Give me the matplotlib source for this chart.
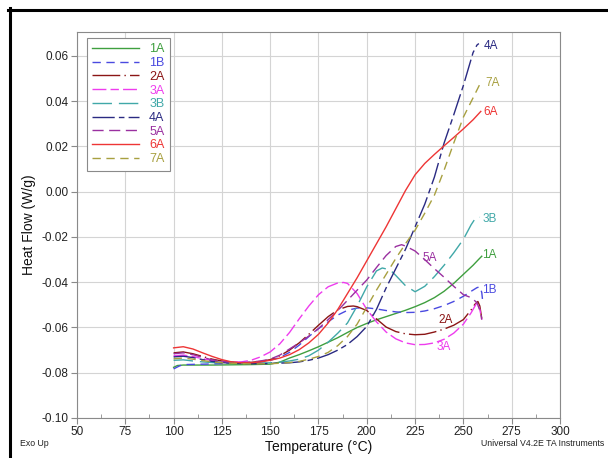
import matplotlib
matplotlib.use("Agg")
import matplotlib.pyplot as plt
from matplotlib.lines import Line2D

plt.rcParams['font.family'] = ['Liberation Sans', 'DejaVu Sans']

# ---- data (Temperature °C, Heat Flow W/g) ----
t_1A = [100, 102, 105, 110, 120, 130, 140, 150, 155, 160, 165, 170, 175, 180, 185, 190, 195, 200, 205, 210,
        215, 220, 225, 230, 235, 240, 245, 250, 255, 258, 259.5]
v_1A = [-0.0776, -0.0768, -0.0766, -0.0766, -0.0766, -0.0765, -0.0764, -0.0762, -0.0753, -0.0735, -0.0720,
        -0.0703, -0.0685, -0.0665, -0.0645, -0.0622, -0.0600, -0.0582, -0.0566, -0.0552, -0.0538, -0.0524,
        -0.0508, -0.0490, -0.0468, -0.0440, -0.0405, -0.0365, -0.0325, -0.0298, -0.0285]

t_1B = [100, 103, 105, 110, 120, 130, 140, 145, 150, 155, 160, 165, 170, 175, 180, 185, 190, 195, 200, 205,
        210, 215, 220, 225, 230, 235, 240, 245, 250, 254, 257, 258.5, 259.5, 260]
v_1B = [-0.0783, -0.0770, -0.0764, -0.0763, -0.0761, -0.0758, -0.0756, -0.0752, -0.0745, -0.0732, -0.0710,
        -0.0678, -0.0640, -0.0605, -0.0575, -0.0545, -0.0524, -0.0514, -0.0513, -0.0518, -0.0525, -0.0531,
        -0.0534, -0.0533, -0.0527, -0.0517, -0.0503, -0.0485, -0.0462, -0.0440, -0.0424, -0.0420, -0.0445,
        -0.0485]

t_2A = [100, 105, 110, 115, 120, 125, 130, 135, 140, 145, 150, 155, 160, 165, 170, 175, 180, 185, 190, 193,
        195, 200, 205, 210, 215, 220, 225, 230, 235, 240, 245, 250, 254, 256, 257.5, 258.5, 259.5]
v_2A = [-0.0712, -0.0708, -0.0716, -0.0728, -0.0740, -0.0748, -0.0753, -0.0755, -0.0754, -0.0750, -0.0742,
        -0.0725, -0.0700, -0.0668, -0.0630, -0.0590, -0.0552, -0.0522, -0.0507, -0.0505, -0.0508, -0.0525,
        -0.0562, -0.0598, -0.0618, -0.0628, -0.0632, -0.0630, -0.0620, -0.0607, -0.0590, -0.0565, -0.0522,
        -0.0497, -0.0485, -0.0505, -0.0560]

t_3A = [100, 105, 110, 115, 120, 125, 130, 135, 140, 145, 150, 155, 160, 165, 170, 175, 180, 185, 188, 190,
        195, 200, 205, 210, 215, 220, 225, 230, 235, 240, 245, 250, 254, 256, 257, 258.5, 259.5]
v_3A = [-0.0725, -0.0722, -0.0728, -0.0738, -0.0746, -0.0752, -0.0754, -0.0752, -0.0745, -0.0730, -0.0708,
        -0.0672, -0.0622, -0.0562, -0.0505, -0.0455, -0.0420, -0.0403, -0.0401, -0.0405, -0.0450, -0.0520,
        -0.0575, -0.0620, -0.0650, -0.0668, -0.0676, -0.0675, -0.0668, -0.0652, -0.0625, -0.0585, -0.0535,
        -0.0505, -0.0490, -0.0520, -0.0565]

t_3B = [100, 105, 110, 115, 120, 130, 140, 150, 155, 160, 165, 170, 175, 180, 185, 190, 195, 200, 205, 208,
        212, 215, 220, 225, 230, 235, 240, 245, 250, 254, 256, 257.6, 258.5]
v_3B = [-0.0745, -0.0743, -0.0748, -0.0752, -0.0755, -0.0758, -0.0759, -0.0756, -0.0753, -0.0748, -0.0740,
        -0.0725, -0.0700, -0.0665, -0.0625, -0.0580, -0.0505, -0.0420, -0.0350, -0.0337, -0.0345, -0.0370,
        -0.0415, -0.0442, -0.0418, -0.0375, -0.0325, -0.0270, -0.0210, -0.0146, -0.0120, -0.0110, -0.0113]

t_4A = [100, 105, 110, 115, 120, 125, 130, 140, 150, 160, 165, 170, 175, 180, 185, 190, 195, 200, 205, 210,
        215, 220, 225, 230, 235, 240, 245, 250, 255, 257, 258]
v_4A = [-0.0730, -0.0727, -0.0733, -0.0742, -0.0750, -0.0755, -0.0758, -0.0760, -0.0759, -0.0756, -0.0752,
        -0.0745, -0.0735, -0.0720, -0.0700, -0.0675, -0.0640, -0.0595, -0.0520, -0.0425, -0.0340, -0.0255,
        -0.0155, -0.0055, 0.0065, 0.0215, 0.0340, 0.0470, 0.0615, 0.0648, 0.0655]

t_5A = [100, 105, 110, 115, 120, 125, 130, 135, 140, 145, 150, 155, 160, 165, 170, 175, 180, 185, 190, 195,
        200, 205, 210, 215, 218, 220, 225, 230, 235, 240, 245, 250, 254, 257, 259, 259.5]
v_5A = [-0.0716, -0.0712, -0.0720, -0.0732, -0.0743, -0.0750, -0.0754, -0.0755, -0.0753, -0.0748, -0.0740,
        -0.0722, -0.0695, -0.0668, -0.0638, -0.0605, -0.0565, -0.0525, -0.0480, -0.0435, -0.0390, -0.0335,
        -0.0282, -0.0242, -0.0234, -0.0240, -0.0262, -0.0300, -0.0340, -0.0378, -0.0418, -0.0455, -0.0468,
        -0.0490, -0.0535, -0.0565]

t_6A = [100, 105, 110, 115, 120, 125, 130, 135, 140, 145, 150, 155, 160, 165, 170, 175, 180, 185, 190, 195,
        200, 205, 210, 215, 220, 225, 230, 235, 240, 245, 250, 255, 259]
v_6A = [-0.0690, -0.0685, -0.0695, -0.0712, -0.0728, -0.0742, -0.0752, -0.0756, -0.0756, -0.0752, -0.0745,
        -0.0735, -0.0720, -0.0698, -0.0668, -0.0630, -0.0580, -0.0520, -0.0450, -0.0380, -0.0305, -0.0230,
        -0.0155, -0.0075, 0.0005, 0.0075, 0.0125, 0.0165, 0.0203, 0.0240, 0.0278, 0.0318, 0.0355]

t_7A = [100, 105, 110, 115, 120, 125, 130, 140, 150, 155, 160, 165, 170, 175, 180, 185, 190, 195, 200, 205,
        210, 215, 220, 225, 230, 235, 240, 245, 250, 255, 258.5]
v_7A = [-0.0738, -0.0735, -0.0740, -0.0746, -0.0752, -0.0756, -0.0758, -0.0761, -0.0760, -0.0758, -0.0755,
        -0.0750, -0.0740, -0.0728, -0.0710, -0.0680, -0.0640, -0.0585, -0.0510, -0.0435, -0.0365, -0.0295,
        -0.0230, -0.0170, -0.0095, -0.0015, 0.0095, 0.0215, 0.0330, 0.0415, 0.0475]

names = ["1A", "1B", "2A", "3A", "3B", "4A", "5A", "6A", "7A"]
temps = [t_1A, t_1B, t_2A, t_3A, t_3B, t_4A, t_5A, t_6A, t_7A]
flows = [v_1A, v_1B, v_2A, v_3A, v_3B, v_4A, v_5A, v_6A, v_7A]

colors = {"1A": "#3f9f3f", "1B": "#4a4ae0", "2A": "#8b1515", "3A": "#ee3cee", "3B": "#40a8a8",
          "4A": "#2a2a82", "5A": "#9a30a0", "6A": "#ee3535", "7A": "#a8a040"}
dashes = {"1A": None, "1B": (6, 4), "2A": (20, 3, 1, 3), "3A": (10, 3, 6, 3), "3B": (14, 5),
          "4A": (16, 3, 4, 3), "5A": (8, 4), "6A": None, "7A": (6, 4)}

# end-label positions (data coords)
label_pos = {"4A": (260.7, 0.0645), "7A": (261.2, 0.0482), "6A": (260.1, 0.0354), "3B": (260.1, -0.0119),
             "5A": (229.0, -0.0293), "1A": (259.8, -0.0280), "1B": (259.8, -0.0433), "2A": (237.0, -0.0566),
             "3A": (236.2, -0.0684)}

fig = plt.figure(figsize=(6.08, 4.58), dpi=100)
fig.patch.set_facecolor("white")
ax = fig.add_axes([77 / 608, 40 / 458, 483 / 608, 386 / 458])

handles = []
for n, t, v in zip(names, temps, flows):
    line, = ax.plot(t, v, color=colors[n], lw=1.0, label=n)
    if dashes[n] is not None:
        line.set_dashes(dashes[n])
    handles.append(line)
    lx, ly = label_pos[n]
    ax.text(lx, ly, n, color=colors[n], fontsize=8.5, ha="left", va="center")

ax.set_xlim(50, 300)
ax.set_ylim(-0.10, 0.0706)
ax.set_xticks([50, 75, 100, 125, 150, 175, 200, 225, 250, 275, 300])
ax.set_xticks([62.5 + 25 * i for i in range(10)], minor=True)
ax.set_yticks([-0.10, -0.08, -0.06, -0.04, -0.02, 0.00, 0.02, 0.04, 0.06])
ax.set_yticklabels(["-0.10", "-0.08", "-0.06", "-0.04", "-0.02", "0.00", "0.02", "0.04", "0.06"])
ax.grid(True, which="major", color="#d4d4d4", lw=0.8)
ax.set_axisbelow(True)
for s in ax.spines.values():
    s.set_color("#8a8a8a")
    s.set_linewidth(0.8)
ax.tick_params(which="major", direction="out", length=4, color="#8a8a8a", labelsize=8.5,
               labelcolor="#222222", pad=2)
ax.tick_params(which="minor", direction="in", length=3, color="#8a8a8a")
ax.tick_params(axis="y", which="minor", left=False)

ax.set_xlabel("Temperature (°C)", fontsize=10, labelpad=1, color="#111111")
ax.set_ylabel("Heat Flow (W/g)", fontsize=10, labelpad=4, color="#111111")

leg = ax.legend(handles=handles, loc="upper left", bbox_to_anchor=(10 / 483, 1 - 6 / 386),
                borderaxespad=0, fontsize=9, handlelength=3.75, labelspacing=0.14, frameon=True,
                fancybox=False, edgecolor="#8a8a8a", framealpha=1, labelcolor="linecolor",
                handletextpad=0.8, borderpad=0.42)
leg.get_frame().set_linewidth(0.8)

fig.text(20 / 608, 1 - 443 / 458, "Exo Up", fontsize=6.3, ha="left", va="center", color="#222222")
fig.text(604 / 608, 1 - 443 / 458, "Universal V4.2E TA Instruments", fontsize=6.3, ha="right",
         va="center", color="#222222")

# black frame lines (top and left) of the original screenshot
fig.add_artist(Line2D([8 / 608, 1], [1 - 9.5 / 458, 1 - 9.5 / 458], color="black", lw=2.2,
                      transform=fig.transFigure))
fig.add_artist(Line2D([9.5 / 608, 9.5 / 608], [0, 1 - 8 / 458], color="black", lw=2.2,
                      transform=fig.transFigure))

fig.savefig("out.png", dpi=100)
